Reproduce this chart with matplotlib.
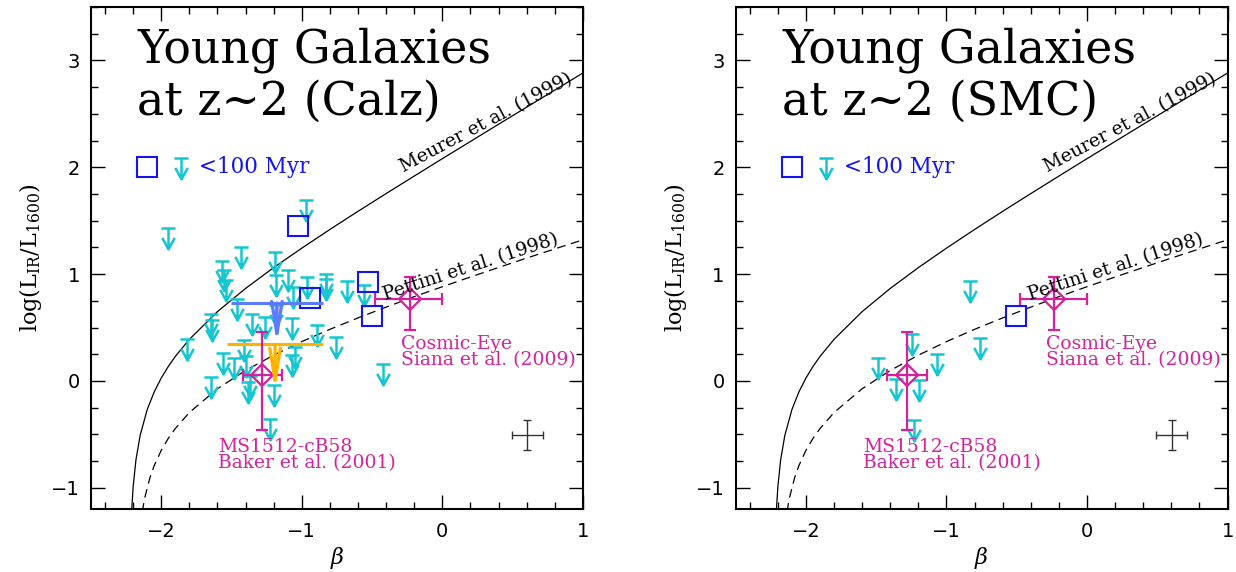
import numpy as np
import matplotlib.pyplot as plt
from matplotlib.path import Path

plt.rcParams['mathtext.fontset'] = 'dejavuserif'

# --- curves ---
meurer_beta = [-2.21, -2.20, -2.18, -2.15, -2.10, -2.05, -2.0, -1.95, -1.9, -1.8, -1.6, -1.4,
               -1.2, -1.0, -0.8, -0.6, -0.4, -0.2, 0.0, 0.2, 0.4, 0.6, 0.8, 1.0]
meurer_irx = [-1.207, -0.993, -0.739, -0.509, -0.269, -0.103, 0.027, 0.135, 0.229, 0.389, 0.649, 0.866,
              1.061, 1.243, 1.418, 1.588, 1.754, 1.918, 2.081, 2.242, 2.403, 2.563, 2.723, 2.883]

pettini_beta = [-2.15, -2.12, -2.08, -2.05, -2.0, -1.95, -1.9, -1.8, -1.6, -1.4, -1.2,
                -1.0, -0.8, -0.6, -0.4, -0.2, 0.0, 0.2, 0.4, 0.6, 0.8, 1.0]
pettini_irx = [-1.358, -1.108, -0.904, -0.793, -0.650, -0.538, -0.446, -0.296, -0.073, 0.098, 0.241,
               0.368, 0.483, 0.590, 0.691, 0.789, 0.882, 0.973, 1.062, 1.150, 1.236, 1.321]

# --- upper limits, young galaxies (<100 Myr) ---
lim_beta_calz = [-0.97, -1.95, -1.43, -1.19, -1.565, -1.553, -1.538, -1.095, -1.18, -0.96,
                 -0.83, -0.83, -0.68, -0.556, -1.06, -1.46, -1.18, -1.645, -1.638, -1.355,
                 -1.26, -1.07, -0.89, -1.82, -0.76, -1.41, -1.05, -1.56, -1.40, -1.48,
                 -1.07, -1.645, -1.37, -1.38, -1.20, -0.42, -1.225]
lim_irx_calz = [1.69, 1.43, 1.25, 1.21, 1.12, 1.035, 0.948, 1.04, 0.99, 0.97,
                1.00, 0.95, 0.94, 0.895, 0.88, 0.77, 0.71, 0.63, 0.567, 0.63,
                0.60, 0.59, 0.52, 0.395, 0.41, 0.38, 0.32, 0.26, 0.23, 0.21,
                0.24, 0.035, 0.05, -0.01, -0.04, 0.155, -0.36]

lim_beta_smc = [-0.836, -1.246, -1.484, -1.068, -0.76, -1.358, -1.199, -1.23]
lim_irx_smc = [0.935, 0.442, 0.213, 0.254, 0.404, 0.02, 0.004, -0.364]

# detections
det_beta_calz = [-1.026, -0.945, -0.527, -0.501]
det_irx_calz = [1.448, 0.776, 0.926, 0.604]
det_beta_smc = [-0.504]
det_irx_smc = [0.604]

# stacks (Calz panel only): beta, beta err, irx limit, arrow length
stack_beta = [-1.177, -1.19]
stack_beta_err = [0.325, 0.34]
stack_irx = [0.729, 0.342]
stack_len = [0.38, 0.43]
stack_colors = ['#5b7cff', '#ffb300']

# lensed galaxies
lens_names = ['MS1512-cB58\nBaker et al. (2001)', 'Cosmic-Eye\nSiana et al. (2009)']
lens_beta = [-1.284, -0.233]
lens_beta_lo = [0.136, 0.244]
lens_beta_hi = [0.142, 0.23]
lens_irx = [0.058, 0.77]
lens_irx_lo = [0.516, 0.291]
lens_irx_hi = [0.399, 0.202]
lens_text_xy = [(-1.593, -0.82), (-0.294, 0.145)]

# typical error
err_beta, err_irx = 0.603, -0.508
err_dbeta, err_dirx = 0.11, 0.14

CYAN = '#14c6d0'
BLUE = '#1414f0'
MAGENTA = '#d3229b'

# down arrow marker with a bar on top
arrow_marker = Path(
    [(-0.34, 0), (0.34, 0), (0, 0), (0, -1), (-0.3, -0.45), (0, -1), (0.3, -0.45)],
    [Path.MOVETO, Path.LINETO, Path.MOVETO, Path.LINETO, Path.MOVETO, Path.LINETO, Path.LINETO])


def panel(ax, title2, lb, li, db, di, stacks):
    ax.plot(meurer_beta, meurer_irx, color='black', lw=0.9)
    ax.plot(pettini_beta, pettini_irx, color='black', lw=0.9, ls=(0, (7, 4.5)))

    ax.text(-0.278, 1.954, 'Meurer et al. (1999)', family='DejaVu Serif', fontsize=13.5,
            rotation=28, rotation_mode='anchor', ha='left', va='baseline')
    ax.text(-0.406, 0.754, 'Pettini et al. (1998)', family='DejaVu Serif', fontsize=13.5,
            rotation=18, rotation_mode='anchor', ha='left', va='baseline')

    ax.plot(lb, li, ls='none', marker=arrow_marker, ms=30, mfc='none', mec=CYAN, mew=1.8)
    ax.plot(db, di, ls='none', marker='s', ms=14, mfc='none', mec=BLUE, mew=1.5)

    if stacks:
        for b, be, v, L, c in zip(stack_beta, stack_beta_err, stack_irx, stack_len, stack_colors):
            ax.errorbar([b], [v], xerr=[be], fmt='none', ecolor=c, elinewidth=2.2, capsize=0)
            ax.annotate('', xy=(b, v - L), xytext=(b, v),
                        arrowprops=dict(arrowstyle='->,head_length=2.3,head_width=0.38',
                                        color=c, lw=2.4, shrinkA=0, shrinkB=0))

    ax.errorbar(lens_beta, lens_irx, xerr=[lens_beta_lo, lens_beta_hi],
                yerr=[lens_irx_lo, lens_irx_hi], fmt='D', ms=11.5, mfc='none',
                mec=MAGENTA, mew=1.6, ecolor=MAGENTA, elinewidth=1.6, capsize=4, capthick=1.6)
    for name, (tx, ty) in zip(lens_names, lens_text_xy):
        ax.text(tx, ty, name, color=MAGENTA, family='DejaVu Serif', fontsize=13.5,
                ha='left', va='baseline', linespacing=0.92)

    ax.errorbar([err_beta], [err_irx], xerr=[err_dbeta], yerr=[err_dirx], fmt='none',
                ecolor='#333333', elinewidth=1.0, capsize=3, capthick=1.0)

    # title and legend
    ax.text(-2.17, 2.98, 'Young Galaxies', family='DejaVu Serif', fontsize=33, va='baseline')
    ax.text(-2.17, 2.49, title2, family='DejaVu Serif', fontsize=33, va='baseline')
    ax.plot([-2.101], [2.0], ls='none', marker='s', ms=14, mfc='none', mec=BLUE, mew=1.5)
    ax.plot([-1.859], [2.085], ls='none', marker=arrow_marker, ms=30, mfc='none', mec=CYAN, mew=1.8)
    ax.text(-1.731, 2.0, '<100 Myr', color=BLUE, family='DejaVu Serif', fontsize=15.5, va='center')

    ax.set_xlim(-2.5, 1)
    ax.set_ylim(-1.2, 3.5)
    ax.set_xticks([-2, -1, 0, 1])
    ax.set_yticks([-1, 0, 1, 2, 3])
    ax.set_xticks(np.arange(-2.4, 1.01, 0.2), minor=True)
    ax.set_yticks(np.arange(-1.0, 3.51, 0.25), minor=True)
    ax.tick_params(which='both', direction='in', top=True, right=True, width=1.0, labelsize=14)
    ax.tick_params(which='major', length=10)
    ax.tick_params(which='minor', length=5)
    ax.tick_params(axis='x', pad=9)
    ax.tick_params(axis='y', pad=8)
    for s in ax.spines.values():
        s.set_linewidth(1.5)
    ax.set_xlabel(r'$\beta$', fontsize=16, labelpad=3)
    ax.set_ylabel(r'log(L$_{\rm IR}$/L$_{1600}$)', family='DejaVu Serif', fontsize=16, labelpad=5)


fig = plt.figure(figsize=(12.36, 5.72), dpi=100)
ax1 = fig.add_axes([0.0736, 0.110, 0.398, 0.8776])
ax2 = fig.add_axes([0.5952, 0.110, 0.398, 0.8776])

panel(ax1, 'at z~2 (Calz)', lim_beta_calz, lim_irx_calz, det_beta_calz, det_irx_calz, True)
panel(ax2, 'at z~2 (SMC)', lim_beta_smc, lim_irx_smc, det_beta_smc, det_irx_smc, False)

fig.savefig('out.png', dpi=100)
